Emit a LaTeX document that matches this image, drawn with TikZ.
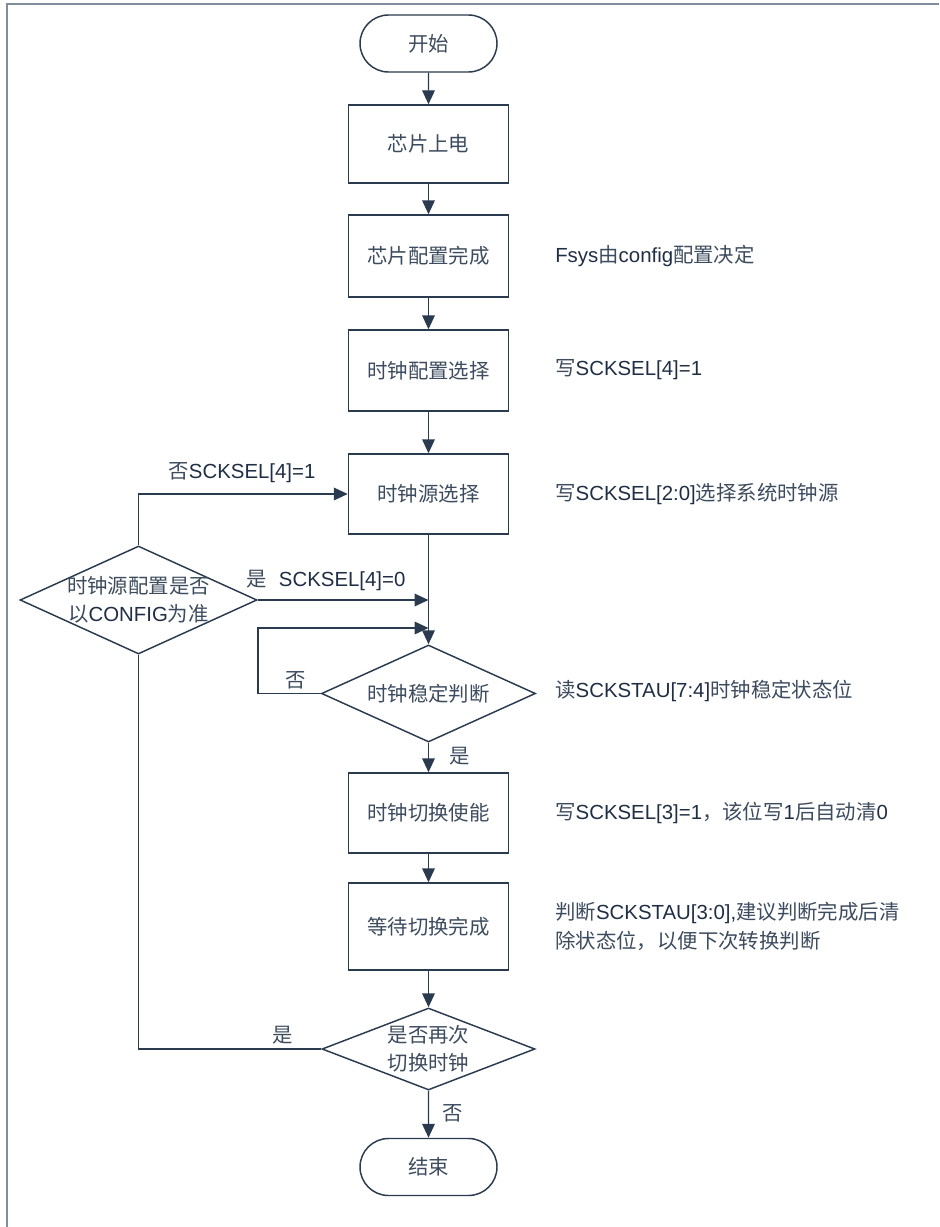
\documentclass[tikz,border=0pt]{standalone}
\usepackage{fontspec}
\setmainfont{Noto Sans CJK SC}
\newfontfamily\latfont{Liberation Sans}
\usetikzlibrary{shapes.geometric,shapes.misc,arrows.meta}
\definecolor{lnc}{HTML}{2B3B4F}
\definecolor{txc}{HTML}{3C4B5E}
\definecolor{ltc}{HTML}{1F2E44}
\definecolor{frc}{HTML}{7F8D9C}
\newcommand\latn[1]{{\latfont\color{ltc}#1}}
\begin{document}
\begin{tikzpicture}[x=0.75pt,y=-0.75pt,
  txt/.style={text=txc,font=\fontsize{15.3}{21}\selectfont,inner sep=0pt},
  proc/.style={draw=lnc,line width=1.1pt,minimum width=120pt,inner sep=0pt,text=txc,font=\fontsize{15.3}{21}\selectfont},
  term/.style={rounded rectangle,draw=lnc,line width=1.1pt,minimum width=102.75pt,minimum height=42.75pt,inner sep=0pt,text=txc,font=\fontsize{15.3}{21}\selectfont},
  dia/.style={diamond,draw=lnc,line width=1.1pt,inner sep=0pt},
  conn/.style={draw=lnc,line width=1.1pt},
  arr/.style={conn,-{Triangle[length=10.5pt,width=9.5pt]}},
  note/.style={txt,anchor=west,align=left,font=\fontsize{15.3}{21.75}\selectfont}
]
\useasboundingbox (0,0) rectangle (939,1227);
\draw[frc,line width=1.3pt] (7,1227) -- (7,4) -- (939,4);

% main column
\node[term] (start) at (428.5,43.5) {开始};
\node[proc,minimum height=58.5pt] (b1) at (428.5,144) {芯片上电};
\node[proc,minimum height=61.5pt] (b2) at (428.5,256) {芯片配置完成};
\node[proc,minimum height=60.75pt] (b3) at (428.5,370.5) {时钟配置选择};
\node[proc,minimum height=60pt] (b4) at (428.5,494) {时钟源选择};
\node[dia,minimum width=160.5pt,minimum height=72.75pt] (d1) at (428.5,693.5) {};
\node[txt] (d1t) at (d1.center) {时钟稳定判断};
\node[proc,minimum height=60pt] (b5) at (428.5,813) {时钟切换使能};
\node[proc,minimum height=65.25pt] (b6) at (428.5,926.5) {等待切换完成};
\node[dia,minimum width=159.75pt,minimum height=61.5pt] (d2) at (428.5,1049) {};
\node[txt,align=center] (d2t) at (d2.center) {是否再次\\切换时钟};
\node[term] (end) at (428.5,1167) {结束};

% left decision
\node[dia,minimum width=177.75pt,minimum height=81pt] (dl) at (138.5,600) {};
\node[txt,align=center] (dlt) at (dl.center) {时钟源配置是否\\以\latn{CONFIG}为准};

% connectors
\draw[arr] (start) -- (b1);
\draw[arr] (b1) -- (b2);
\draw[arr] (b2) -- (b3);
\draw[arr] (b3) -- (b4);
\draw[arr] (b4) -- (d1);
\draw[arr] (d1) -- (b5);
\draw[arr] (b5) -- (b6);
\draw[arr] (b6) -- (d2);
\draw[arr] (d2) -- (end);
\draw[arr] (dl.north) |- (b4.west);
\draw[arr] (dl.east) -- (dl.east -| d1.north);
\coordinate (lp) at (258,628);
\draw[arr] (d1.west) -| (lp) -- (lp -| d1.north);
\draw[conn] (d2.west) -| (dl.south);

% connector labels
\node[txt] (l1) at (242,473) {否\latn{SCKSEL[4]=1}};
\node[txt] (l2) at (326,580) {是\hspace{9pt}\latn{SCKSEL[4]=0}};
\node[txt] (l3) at (296,680) {否};
\node[txt] (l4) at (460,756) {是};
\node[txt] (l5) at (283,1035) {是};
\node[txt] (l6) at (453,1113) {否};

% annotations
\node[note] (n1) at (555,256) {\latn{Fsys}由\latn{config}配置决定};
\node[note] (n2) at (555,370) {写\latn{SCKSEL[4]=1}};
\node[note] (n3) at (555,494) {写\latn{SCKSEL[2:0]}选择系统时钟源};
\node[note] (n4) at (555,691) {读\latn{SCKSTAU[7:4]}时钟稳定状态位};
\node[note] (n5) at (555,813) {写\latn{SCKSEL[3]=1}，该位写\latn{1}后自动清\latn{0}};
\node[note] (n6) at (555,926.5) {判断\latn{SCKSTAU[3:0],}建议判断完成后清\\除状态位，以便下次转换判断};
\end{tikzpicture}
\end{document}
